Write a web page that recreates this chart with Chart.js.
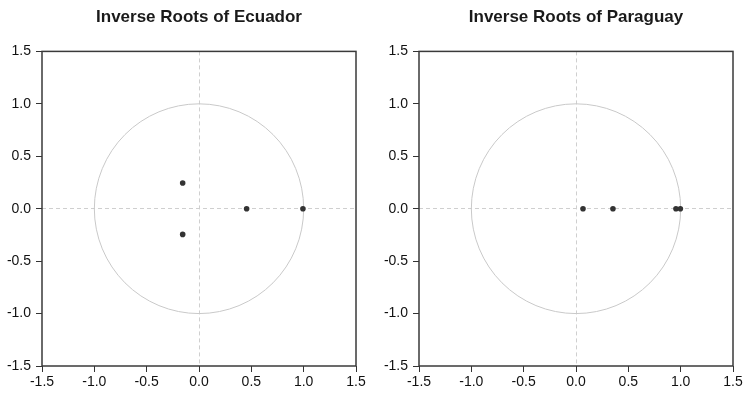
<!DOCTYPE html>
<html>
<head>
<meta charset="utf-8">
<script src="https://cdn.jsdelivr.net/npm/chart.js@4.4.1/dist/chart.umd.min.js"></script>
<style>
  html, body { margin: 0; padding: 0; background: #fff; overflow: hidden; width: 749px; height: 393px; }
  .panel { position: absolute; top: 0; height: 393px; }
</style>
</head>
<body>
<div class="panel" style="left:0;width:398px"><canvas id="rootsLeft"></canvas></div>
<div class="panel" style="left:375px;width:402px"><canvas id="rootsRight"></canvas></div>
<script>
  const axisMin = -1.5;
  const axisMax = 1.5;
  const axisStep = 0.5;

  const ecuadorTitle = "Inverse Roots of Ecuador";
  const ecuadorReal = [-0.156, -0.156, 0.455, 0.993];
  const ecuadorImag = [0.245, -0.245, 0, 0];

  const paraguayTitle = "Inverse Roots of Paraguay";
  const paraguayReal = [0.067, 0.353, 0.955, 0.997];
  const paraguayImag = [0, 0, 0, 0];

  const FONT = "'Liberation Sans', Arial, Helvetica, sans-serif";
  const INK = "#333333";
  const LIGHT = "#cfcfcf";

  // unit circle, drawn in data units under the points
  const unitCircle = {
    id: "unitCircle",
    beforeDatasetsDraw(chart) {
      const { ctx, scales } = chart;
      const cx = scales.x.getPixelForValue(0);
      const cy = scales.y.getPixelForValue(0);
      const rx = scales.x.getPixelForValue(1) - cx;
      const ry = cy - scales.y.getPixelForValue(1);
      ctx.save();
      ctx.strokeStyle = "#c9c9c9";
      ctx.lineWidth = 1;
      ctx.beginPath();
      ctx.ellipse(cx, cy, rx, ry, 0, 0, Math.PI * 2);
      ctx.stroke();
      ctx.restore();
    }
  };

  // box round the plot area
  const plotFrame = {
    id: "plotFrame",
    afterDraw(chart) {
      const { ctx, chartArea: a } = chart;
      ctx.save();
      ctx.strokeStyle = "#3a3a3a";
      ctx.lineWidth = 1.5;
      ctx.strokeRect(a.left, a.top, a.right - a.left, a.bottom - a.top);
      ctx.restore();
    }
  };

  function axisOptions(position, size) {
    const horizontal = position === "bottom";
    return {
      type: "linear",
      position,
      min: axisMin,
      max: axisMax,
      border: { display: false, dash: [4, 3] },
      grid: {
        color: (c) => (c.tick && c.tick.value === 0 ? LIGHT : "rgba(0,0,0,0)"),
        lineWidth: 1,
        drawTicks: true,
        tickLength: 6,
        tickColor: INK,
        tickWidth: 1
      },
      ticks: {
        stepSize: axisStep,
        autoSkip: false,
        maxRotation: 0,
        padding: horizontal ? 2 : 5,
        color: "#111",
        font: { family: FONT, size: 14 },
        callback: (v) => Number(v).toFixed(1)
      },
      afterFit(scale) {
        if (horizontal) scale.height = size;
        else scale.width = size;
      }
    };
  }

  function renderRoots(canvasId, title, real, imag, sideWidth) {
    const canvas = document.getElementById(canvasId);
    if (!canvas) return;

    const points = real.map((re, i) => ({ x: re, y: imag[i] }));

    new Chart(canvas, {
      type: "scatter",
      data: {
        datasets: [
          {
            data: points,
            pointRadius: 2.8,
            pointBackgroundColor: INK,
            pointBorderWidth: 0
          }
        ]
      },
      options: {
        responsive: true,
        maintainAspectRatio: false,
        animation: false,
        layout: { padding: 0 },
        plugins: {
          legend: { display: false },
          tooltip: { enabled: false },
          title: {
            display: true,
            text: title,
            color: "#1a1a1a",
            font: { family: FONT, size: 17, weight: "bold" },
            padding: { top: 7, bottom: 24 }
          }
        },
        scales: {
          x: axisOptions("bottom", 27),
          y: axisOptions("left", sideWidth),
          // empty right axis keeps the title centred over the plot
          y2: {
            type: "linear",
            position: "right",
            display: true,
            grid: { display: false, drawTicks: false },
            border: { display: false },
            ticks: { display: false },
            afterFit(scale) {
              scale.width = sideWidth;
            }
          }
        }
      },
      plugins: [unitCircle, plotFrame]
    });
  }

  renderRoots("rootsLeft", ecuadorTitle, ecuadorReal, ecuadorImag, 42);
  renderRoots("rootsRight", paraguayTitle, paraguayReal, paraguayImag, 44);
</script>
</body>
</html>
